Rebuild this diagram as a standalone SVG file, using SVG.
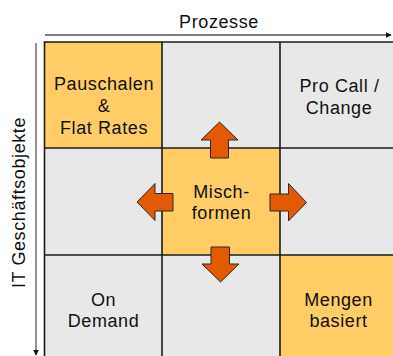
<svg xmlns="http://www.w3.org/2000/svg" width="393" height="356" viewBox="0 0 393 356">
  <style>
    .cell-grey { fill: #e8e8e8; }
    .cell-gold { fill: #ffcc66; }
    .grid { stroke: #1a1a1a; stroke-width: 1.6; fill: none; }
    .label { font-family: "Liberation Sans", Arial, sans-serif; font-size: 18px; letter-spacing: 0.6px; fill: #111; text-anchor: middle; }
    .axis { stroke: #555; stroke-width: 1.3; fill: none; }
    .axis-label { font-family: "Liberation Sans", Arial, sans-serif; font-size: 18px; letter-spacing: 0.6px; fill: #111; text-anchor: middle; }
    .block-arrow { fill: #e35a04; stroke: #2a2a2a; stroke-width: 1; stroke-linejoin: miter; }
  </style>
  <defs>
    <marker id="axis-head" viewBox="0 0 10 10" refX="9" refY="5" markerWidth="6" markerHeight="6" orient="auto" markerUnits="userSpaceOnUse">
      <path d="M0,0 L10,5 L0,10 Z" fill="#111"/>
    </marker>
  </defs>

  <rect width="393" height="356" fill="#ffffff"/>

  <!-- axes -->
  <g id="axis-prozesse">
    <line class="axis" x1="45" y1="35" x2="391" y2="35" marker-end="url(#axis-head)"/>
    <text class="axis-label" x="219" y="27.5">Prozesse</text>
  </g>
  <g id="axis-objekte">
    <line class="axis" x1="36" y1="43" x2="36" y2="355" marker-end="url(#axis-head)"/>
    <text class="axis-label" transform="translate(25,202.5) rotate(-90)">IT Geschäftsobjekte</text>
  </g>

  <!-- matrix cells: row 1 -->
  <g id="cell-pauschalen">
    <rect class="cell-gold" x="44.5" y="42" width="117.5" height="106"/>
    <text class="label" x="104" y="89.5">Pauschalen</text>
    <text class="label" x="104" y="111.5">&amp;</text>
    <text class="label" x="104" y="133.5">Flat Rates</text>
  </g>
  <g id="cell-r1c2">
    <rect class="cell-grey" x="162" y="42" width="118" height="106"/>
  </g>
  <g id="cell-procall">
    <rect class="cell-grey" x="280" y="42" width="113" height="106"/>
    <text class="label" x="339.5" y="91.5">Pro Call /</text>
    <text class="label" x="339" y="113.5">Change</text>
  </g>

  <!-- row 2 -->
  <g id="cell-r2c1">
    <rect class="cell-grey" x="44.5" y="148" width="117.5" height="107"/>
  </g>
  <g id="cell-mischformen">
    <rect class="cell-gold" x="162" y="148" width="118" height="107"/>
    <text class="label" x="221.5" y="198">Misch-</text>
    <text class="label" x="221.5" y="219">formen</text>
  </g>
  <g id="cell-r2c3">
    <rect class="cell-grey" x="280" y="148" width="113" height="107"/>
  </g>

  <!-- row 3 -->
  <g id="cell-ondemand">
    <rect class="cell-grey" x="44.5" y="255" width="117.5" height="101"/>
    <text class="label" x="103.5" y="305.5">On</text>
    <text class="label" x="103.5" y="327">Demand</text>
  </g>
  <g id="cell-r3c2">
    <rect class="cell-grey" x="162" y="255" width="118" height="101"/>
  </g>
  <g id="cell-mengen">
    <rect class="cell-gold" x="280" y="255" width="113" height="101"/>
    <text class="label" x="338.5" y="305.5">Mengen</text>
    <text class="label" x="338.5" y="327">basiert</text>
  </g>

  <!-- grid lines -->
  <g id="grid">
    <line class="grid" x1="44.5" y1="42" x2="393" y2="42"/>
    <line class="grid" x1="44.5" y1="148" x2="393" y2="148"/>
    <line class="grid" x1="44.5" y1="255" x2="393" y2="255"/>
    <line class="grid" x1="44.5" y1="41.2" x2="44.5" y2="356"/>
    <line class="grid" x1="162" y1="42" x2="162" y2="356"/>
    <line class="grid" x1="280" y1="42" x2="280" y2="356"/>
  </g>

  <!-- block arrows spreading out of the centre cell -->
  <g id="connectors">
    <path class="block-arrow" d="M219.5,122 L238,140 L228.5,140 L228.5,158 L210.5,158 L210.5,140 L201,140 Z"/>
    <path class="block-arrow" d="M211,247 L229.5,247 L229.5,264 L239,264 L220.5,282 L202,264 L211,264 Z"/>
    <path class="block-arrow" d="M270,194 L288.5,194 L288.5,183.5 L306.5,202.5 L288.5,221 L288.5,211 L270,211 Z"/>
    <path class="block-arrow" d="M173,193.5 L155,193.5 L155,183.5 L137,202 L155,220.5 L155,211 L173,211 Z"/>
  </g>
</svg>
